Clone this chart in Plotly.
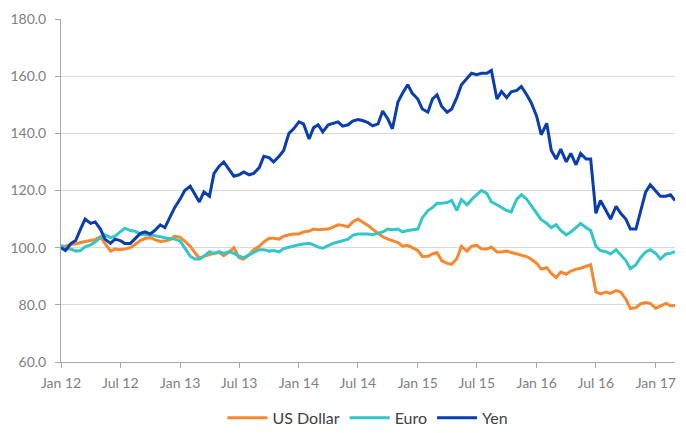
import pandas as pd
import plotly.graph_objects as go

# semi-monthly observation dates (1st and 15th), Jan 2012 - Mar 2017
dates = pd.date_range("2012-01-01", "2017-03-01", freq="SMS")

usd = [100.3, 100.5, 101.2, 101.3, 101.8, 102.0, 102.5, 102.8, 103.8, 101.5, 98.8, 99.5,
       99.3, 99.5, 100.0, 101.0, 102.5, 103.2, 103.5, 102.8, 102.2, 102.3, 102.8, 104.0,
       103.6, 102.3, 100.5, 98.3, 96.2, 97.0, 97.6, 98.0, 98.3, 97.2, 98.5, 100.0,
       96.5, 96.0, 97.5, 99.3, 100.5, 102.0, 103.3, 103.3, 103.0, 104.0, 104.5, 104.8,
       104.8, 105.5, 105.8, 106.5, 106.3, 106.3, 106.5, 107.2, 108.0, 107.8, 107.3, 109.0,
       110.0, 109.0, 107.8, 106.5, 105.0, 103.8, 103.0, 102.5, 101.8, 100.5, 100.8, 100.0,
       99.0, 96.9, 97.0, 97.8, 98.3, 95.5, 94.5, 94.2, 96.2, 100.5, 98.8, 100.5,
       100.8, 99.6, 99.5, 100.2, 98.5, 98.5, 98.8, 98.3, 97.8, 97.5, 96.9, 96.0,
       94.5, 92.5, 93.0, 91.0, 89.5, 91.5, 90.7, 91.8, 92.5, 92.8, 93.5, 94.0,
       84.5, 83.8, 84.5, 84.0, 85.0, 84.5, 82.0, 78.7, 79.0, 80.3, 80.8, 80.5,
       78.8, 79.5, 80.5, 79.7, 79.8]

euro = [101.0, 99.7, 99.5, 98.8, 99.0, 100.3, 101.0, 102.0, 103.5, 104.5, 103.5, 104.0,
        105.5, 106.8, 106.0, 105.8, 104.8, 104.5, 104.5, 104.3, 103.8, 103.5, 103.2, 103.0,
        102.3, 100.0, 97.0, 96.0, 96.0, 97.0, 98.6, 98.0, 98.6, 98.0, 98.6, 98.0,
        97.0, 96.5, 97.5, 98.3, 99.3, 99.3, 98.8, 99.0, 98.5, 99.7, 100.2, 100.5,
        101.0, 101.3, 101.5, 101.0, 100.2, 99.8, 100.8, 101.5, 102.0, 102.5, 103.0, 104.3,
        104.8, 104.8, 104.8, 104.5, 105.0, 105.5, 106.5, 106.3, 106.5, 105.5, 106.0, 106.3,
        106.5, 110.5, 113.0, 114.0, 115.5, 115.5, 115.8, 116.5, 113.0, 116.8, 115.0, 116.8,
        118.5, 120.0, 119.0, 116.0, 115.0, 114.0, 113.0, 112.5, 117.0, 118.5, 117.0, 114.8,
        112.0, 109.8, 108.5, 107.0, 108.0, 106.0, 104.5, 105.5, 107.0, 108.5, 107.0, 106.0,
        100.5, 99.0, 98.6, 97.8, 99.3, 97.5, 95.5, 92.6, 94.0, 96.5, 98.5, 99.3,
        98.0, 96.0, 97.8, 98.0, 98.6]

yen = [100.0, 99.0, 101.5, 102.5, 106.5, 110.0, 108.5, 109.0, 106.5, 103.0, 101.5, 103.0,
       102.5, 101.5, 101.5, 103.0, 105.0, 105.5, 104.8, 106.0, 108.0, 107.0, 111.0, 114.0,
       117.0, 120.0, 121.5, 118.5, 116.0, 119.5, 118.0, 126.0, 128.5, 130.0, 127.0, 125.0,
       125.5, 126.5, 125.5, 126.0, 128.0, 132.0, 131.5, 130.0, 132.0, 134.0, 140.0, 141.5,
       144.0, 143.3, 138.0, 142.0, 143.0, 140.5, 143.0, 143.5, 144.0, 142.5, 143.0, 144.3,
       144.8, 144.5, 143.8, 142.6, 143.3, 147.8, 145.0, 141.6, 151.0, 154.0, 157.0, 154.0,
       152.0, 148.5, 147.4, 152.0, 153.5, 149.5, 147.4, 148.5, 152.6, 157.0, 159.0, 161.0,
       160.5, 161.0, 161.0, 162.0, 152.0, 154.6, 152.5, 154.5, 155.0, 156.4, 153.6, 150.8,
       146.0, 139.5, 143.5, 134.0, 131.0, 134.5, 130.0, 133.0, 129.0, 133.0, 131.0, 131.0,
       112.0, 116.5, 113.0, 110.0, 114.5, 112.0, 110.0, 106.5, 106.5, 112.5, 119.5, 122.0,
       120.0, 118.0, 118.0, 118.5, 116.5]

series = [("US Dollar", usd, "#F7882F"),
          ("Euro", euro, "#33C6C8"),
          ("Yen", yen, "#0A3DAE")]

fig = go.Figure()
for name, vals, color in series:
    fig.add_trace(go.Scatter(x=dates, y=vals, name=name, mode="lines",
                             line=dict(color=color, width=3)))

font_family = "Lato, Open Sans, sans-serif"
fig.update_layout(
    width=686, height=433,
    margin=dict(l=60, r=10, t=13, b=71),
    paper_bgcolor="white", plot_bgcolor="white",
    font=dict(family=font_family, size=14, color="#808080"),
    showlegend=True,
    legend=dict(orientation="h", xanchor="center", x=0.5,
                yref="container", yanchor="middle", y=0.035,
                font=dict(size=16, color="#404040"),
                itemwidth=40, traceorder="normal"),
    xaxis=dict(
        type="date",
        range=["2012-01-01", "2017-03-01"],
        tick0="2012-01-01", dtick="M6", tickformat="%b %y",
        showgrid=False, showline=True, linecolor="#A6A6A6", linewidth=1,
        ticks="outside", ticklen=5, tickcolor="#A6A6A6",
        tickfont=dict(size=14, color="#808080"),
        ticklabelstandoff=3,
    ),
    yaxis=dict(
        range=[60, 180], dtick=20, tickformat=".1f",
        showgrid=True, gridcolor="#D9D9D9", gridwidth=1,
        showline=True, linecolor="#A6A6A6", linewidth=1,
        ticks="outside", ticklen=5, tickcolor="#A6A6A6",
        tickfont=dict(size=14, color="#808080"),
        ticklabelstandoff=6,
        zeroline=False,
    ),
)

fig.write_html("out.html")
